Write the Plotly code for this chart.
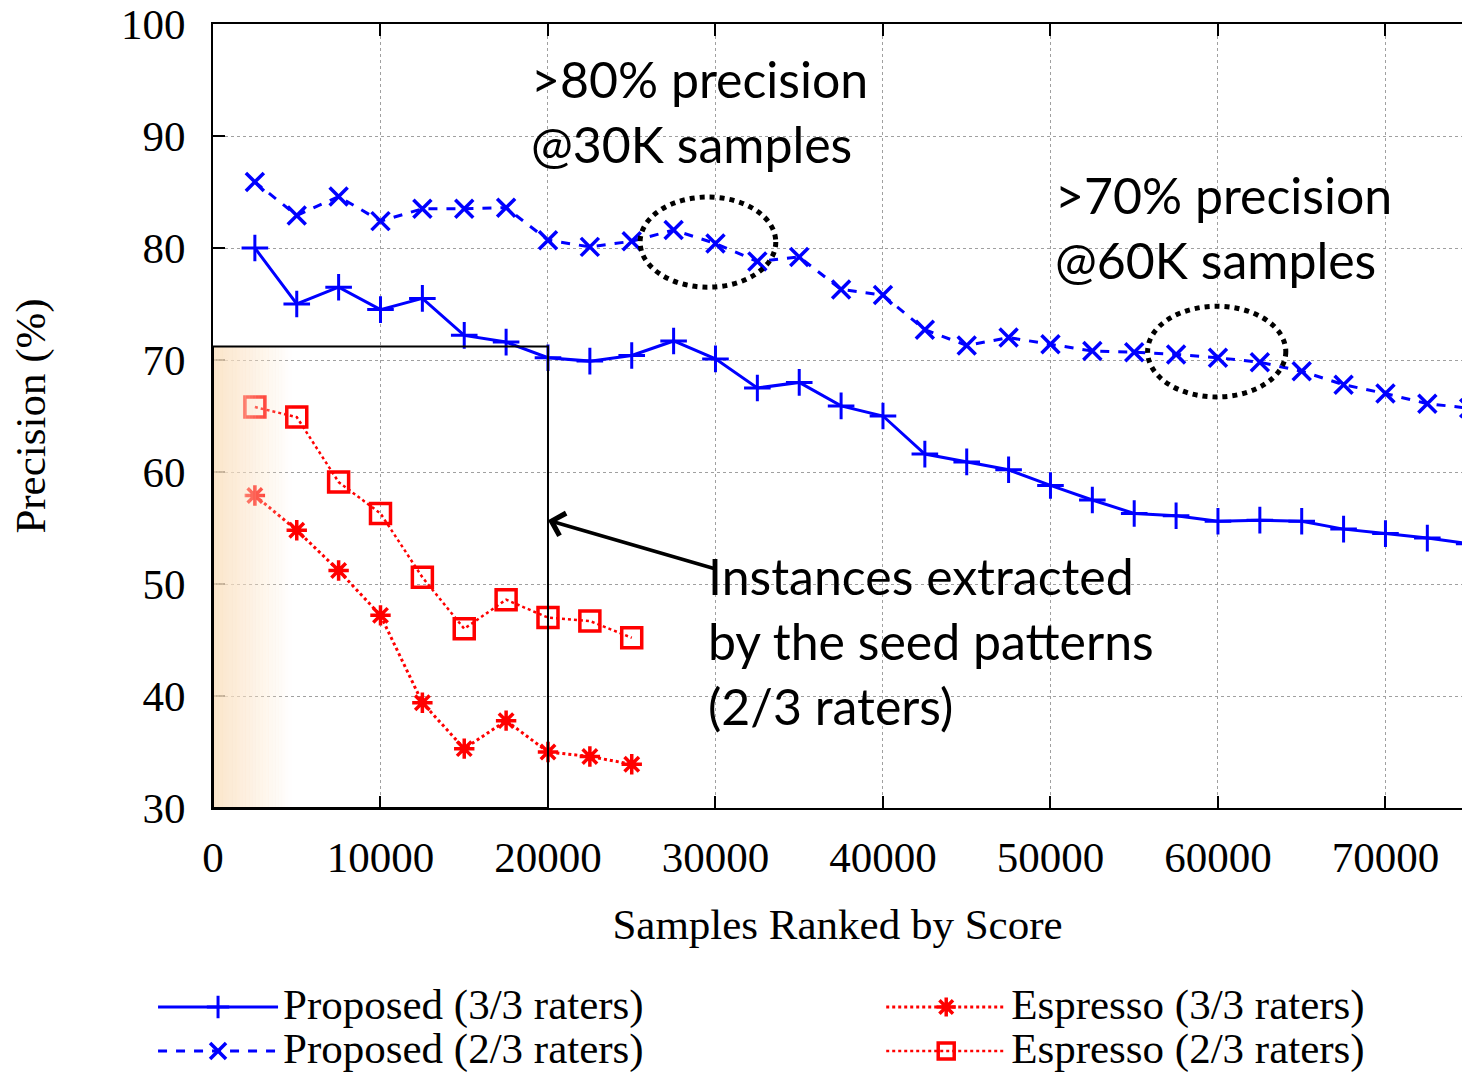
import plotly.graph_objects as go

# ---------------- data ----------------
prop_x = [2500 * i for i in range(1, 31)]
prop_33 = [80.0, 75.0, 76.5, 74.5, 75.5, 72.2, 71.6, 70.2, 69.9, 70.4,
           71.7, 70.1, 67.5, 68.0, 65.9, 65.0, 61.6, 60.9, 60.2, 58.8,
           57.5, 56.3, 56.1, 55.6, 55.7, 55.6, 54.9, 54.5, 54.1, 53.6]
prop_23 = [85.9, 82.9, 84.6, 82.4, 83.5, 83.5, 83.6, 80.7, 80.1, 80.6,
           81.6, 80.4, 78.8, 79.2, 76.3, 75.8, 72.7, 71.3, 72.0, 71.4,
           70.8, 70.7, 70.5, 70.2, 69.8, 69.0, 67.8, 67.0, 66.1, 65.7]
esp_x = [2500 * i for i in range(1, 11)]
esp_33 = [57.9, 54.8, 51.2, 47.2, 39.4, 35.3, 37.8, 35.0, 34.6, 33.9]
esp_23 = [65.8, 64.9, 59.1, 56.3, 50.6, 46.0, 48.6, 47.0, 46.7, 45.2]

series_names = ["Proposed (3/3 raters)", "Proposed (2/3 raters)",
                "Espresso (3/3 raters)", "Espresso (2/3 raters)"]

x_ticks = [0, 10000, 20000, 30000, 40000, 50000, 60000, 70000]
y_ticks = [30, 40, 50, 60, 70, 80, 90, 100]

# ---------------- figure ----------------
SERIF = "Liberation Serif, Times New Roman, serif"
SANS = "Lato, Open Sans, sans-serif"
BLUE = "#0000ff"
RED = "#ff0000"


def legend_label(s):
    # legend rows are spaced by the legend font size; the label itself is drawn larger
    return f'<span style="font-size:43px">{s}</span>'


fig = go.Figure()

fig.add_trace(go.Scatter(
    x=prop_x, y=prop_33, name=legend_label(series_names[0]), mode="lines+markers",
    line=dict(color=BLUE, width=3, dash="solid"),
    marker=dict(symbol="cross-thin", size=19, line=dict(color=BLUE, width=3)),
    legend="legend"))
fig.add_trace(go.Scatter(
    x=prop_x, y=prop_23, name=legend_label(series_names[1]), mode="lines+markers",
    line=dict(color=BLUE, width=3, dash="dash"),
    marker=dict(symbol="x-thin", size=18, line=dict(color=BLUE, width=3.5)),
    legend="legend"))
fig.add_trace(go.Scatter(
    x=esp_x, y=esp_33, name=legend_label(series_names[2]), mode="lines+markers",
    line=dict(color=RED, width=3, dash="dot"),
    marker=dict(symbol="asterisk", size=17, line=dict(color=RED, width=3.5)),
    legend="legend2"))
fig.add_trace(go.Scatter(
    x=esp_x, y=esp_23, name=legend_label(series_names[3]), mode="lines+markers",
    line=dict(color=RED, width=2.5, dash="dot"),
    marker=dict(symbol="square-open", size=20, color=RED, line=dict(color=RED, width=3.5)),
    legend="legend2"))

shapes = []
# gradient overlay at the left of the highlighted box
n = 24
x_end = 4700.0
for i in range(n):
    a = 0.9 * (1 - (i + 0.5) / n)
    shapes.append(dict(type="rect", xref="x", yref="y",
                       x0=x_end * i / n, x1=x_end * (i + 1) / n + 15,
                       y0=30, y1=71.2, line=dict(width=0),
                       fillcolor=f"rgba(251,226,196,{a:.3f})", layer="above"))
# box outline
shapes.append(dict(type="rect", xref="x", yref="y", x0=0, x1=20000, y0=30, y1=71.2,
                   line=dict(color="black", width=2), layer="above"))
# dotted ellipses
shapes.append(dict(type="circle", xref="x", yref="y", x0=25500, x1=33600, y0=76.5, y1=84.55,
                   line=dict(color="black", width=5, dash="dot"), layer="above"))
shapes.append(dict(type="circle", xref="x", yref="y", x0=55800, x1=64050, y0=66.7, y1=74.8,
                   line=dict(color="black", width=5, dash="dot"), layer="above"))

annotations = [
    dict(x=18850, y=92.2, xref="x", yref="y", xanchor="left", yanchor="middle",
         text=">80% precision<br>@30K samples", showarrow=False, align="left",
         font=dict(family=SANS, size=50, color="black")),
    dict(x=50150, y=81.8, xref="x", yref="y", xanchor="left", yanchor="middle",
         text=">70% precision<br>@60K samples", showarrow=False, align="left",
         font=dict(family=SANS, size=50, color="black")),
    dict(x=29450, y=44.9, xref="x", yref="y", xanchor="left", yanchor="middle",
         text="Instances extracted<br>by the seed patterns<br>(2/3 raters)", showarrow=False,
         align="left", font=dict(family=SANS, size=50, color="black")),
    dict(x=20000, y=55.7, xref="x", yref="y", ax=30100, ay=51.3, axref="x", ayref="y",
         text="", showarrow=True, arrowhead=4, arrowsize=1.3, arrowwidth=3.5,
         arrowcolor="black", standoff=0),
]

axis_common = dict(
    showline=True, linecolor="black", linewidth=2, automargin=False,
    ticks="inside", ticklen=12, tickwidth=2, tickcolor="black",
    showgrid=True, gridcolor="#a0a0a0", gridwidth=1, griddash="dot",
    zeroline=False, ticklabeloverflow="allow",
    tickfont=dict(family=SERIF, size=43, color="black"),
)

fig.update_xaxes(range=[0, 74570], tickvals=x_ticks, ticktext=[str(v) for v in x_ticks],
                 mirror="ticks", ticklabelstandoff=10,
                 title=dict(text="Samples Ranked by Score", standoff=29,
                            font=dict(family=SERIF, size=43, color="black")),
                 **axis_common)
fig.update_yaxes(range=[30, 100], tickvals=y_ticks, ticktext=[str(v) for v in y_ticks],
                 mirror=False, ticklabelstandoff=17,
                 title=dict(text="Precision (%)", standoff=62,
                            font=dict(family=SERIF, size=43, color="black")),
                 **axis_common)

fig.update_layout(
    width=1462, height=1074,
    margin=dict(l=213, r=0, t=24, b=266, autoexpand=False),
    paper_bgcolor="white", plot_bgcolor="white",
    shapes=shapes, annotations=annotations,
    showlegend=True,
    legend=dict(x=-0.048, y=-0.2819, xref="paper", yref="paper", xanchor="left",
                yanchor="middle", orientation="v", bgcolor="rgba(0,0,0,0)",
                font=dict(family=SERIF, size=31.5, color="black"), itemwidth=120),
    legend2=dict(x=0.535, y=-0.2819, xref="paper", yref="paper", xanchor="left",
                 yanchor="middle", orientation="v", bgcolor="rgba(0,0,0,0)",
                 font=dict(family=SERIF, size=31.5, color="black"), itemwidth=120),
)

# remove the browser's default page margin so the figure fills the window exactly
fig.write_html("out.html", config={"displayModeBar": False},
               post_script="document.body.style.margin='0px';document.body.style.overflow='hidden';")
